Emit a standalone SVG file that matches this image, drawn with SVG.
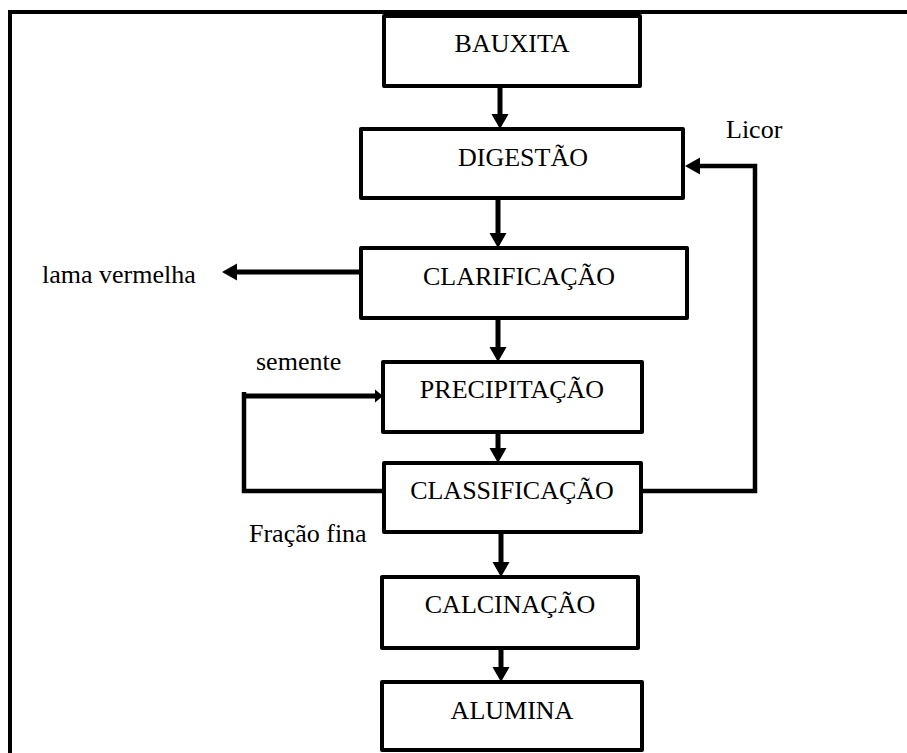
<svg xmlns="http://www.w3.org/2000/svg" width="907" height="753" viewBox="0 0 907 753">
<style>
.box{fill:#fff;stroke:#000;stroke-width:4;stroke-linejoin:round}
.t{font-family:"Liberation Serif","Times New Roman",serif;font-size:26px;fill:#000}
.m{text-anchor:middle}
.c{fill:none;stroke:#000;stroke-width:5}
.f{fill:none;stroke:#000;stroke-width:4.5}
</style>
<defs>
<marker id="ah" markerUnits="userSpaceOnUse" markerWidth="16" markerHeight="18" refX="0" refY="8.5" orient="auto" overflow="visible">
<path d="M0,0 L15,8.5 L0,17 z" fill="#000"/>
</marker>
<marker id="ahs" markerUnits="userSpaceOnUse" markerWidth="10" markerHeight="14" refX="0" refY="6.5" orient="auto" overflow="visible">
<path d="M0,0 L8,6.5 L0,13 z" fill="#000"/>
</marker>
</defs>
<rect width="907" height="753" fill="#fff"/>
<path d="M10,755 V12 H910" fill="none" stroke="#000" stroke-width="4"/>

<g id="connectors">
<path class="c" d="M500,86 V114" marker-end="url(#ah)"/>
<path class="c" d="M498,198 V233" marker-end="url(#ah)"/>
<path class="c" d="M361,272 H237" marker-end="url(#ah)"/>
<path class="c" d="M498,318 V347" marker-end="url(#ah)"/>
<path class="c" d="M498,432 V448" marker-end="url(#ah)"/>
<path class="c" d="M501,532 V562" marker-end="url(#ah)"/>
<path class="c" d="M501,648 V667" marker-end="url(#ah)"/>
<path class="f" d="M641,491 H755 V166 H700" marker-end="url(#ah)"/>
<path class="f" d="M384,491 H244 V392"/>
<path class="c" d="M244,396 H375" marker-end="url(#ahs)"/>
</g>

<g id="bauxita"><rect class="box" x="384" y="16" width="256" height="70"/><text class="t m" x="512" y="52">BAUXITA</text></g>
<g id="digestao"><rect class="box" x="361" y="129" width="322" height="69"/><text class="t m" x="523" y="166">DIGESTÃO</text></g>
<g id="clarificacao"><rect class="box" x="361" y="248" width="326" height="70"/><text class="t m" x="519" y="285">CLARIFICAÇÃO</text></g>
<g id="precipitacao"><rect class="box" x="383" y="362" width="259" height="70"/><text class="t m" x="512" y="398">PRECIPITAÇÃO</text></g>
<g id="classificacao"><rect class="box" x="384" y="463" width="257" height="69"/><text class="t m" x="512" y="499">CLASSIFICAÇÃO</text></g>
<g id="calcinacao"><rect class="box" x="382" y="577" width="256" height="71"/><text class="t m" x="510" y="613">CALCINAÇÃO</text></g>
<g id="alumina"><rect class="box" x="382" y="682" width="260" height="68"/><text class="t m" x="512" y="719">ALUMINA</text></g>

<g id="labels">
<text class="t" x="42" y="283">lama vermelha</text>
<text class="t" x="256" y="370">semente</text>
<text class="t" x="249" y="542">Fração fina</text>
<text class="t" x="726" y="138">Licor</text>
</g>
</svg>
